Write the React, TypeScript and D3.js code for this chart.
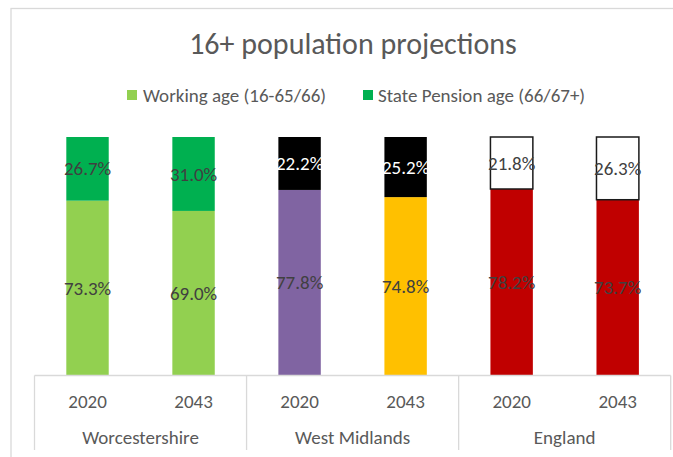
import React from "react";
import * as d3 from "d3";

const groups = ["Worcestershire", "West Midlands", "England"];
const years = ["2020", "2043"];
const workingAge = [73.3, 69.0, 77.8, 74.8, 78.2, 73.7];
const pensionAge = [26.7, 31.0, 22.2, 25.2, 21.8, 26.3];
const workingColors = ["#92D050", "#92D050", "#8064A2", "#FFC000", "#C00000", "#C00000"];
const pensionColors = ["#00B050", "#00B050", "#000000", "#000000", "#FFFFFF", "#FFFFFF"];
const pensionLabelColors = ["#404040", "#404040", "#FFFFFF", "#FFFFFF", "#404040", "#404040"];
const legendLabels = ["Working age (16-65/66)", "State Pension age (66/67+)"];
const legendColors = ["#92D050", "#00B050"];
const title = "16+ population projections";

const W = 673;
const H = 457;
const FONT = "Carlito, Calibri, Lato, 'Open Sans', sans-serif";

export default function App() {
  const plotLeft = 34.5;
  const plotRight = 670.7;
  const plotTop = 137;
  const plotBottom = 375.5;

  const bars = groups.flatMap((g, gi) => years.map((y, yi) => ({ g, y, i: gi * years.length + yi })));

  const x = d3
    .scaleBand<number>()
    .domain(bars.map((b) => b.i))
    .range([plotLeft, plotRight])
    .paddingInner(0.6)
    .paddingOuter(0.3);
  const yScale = d3.scaleLinear().domain([0, 100]).range([plotBottom, plotTop]);

  const groupWidth = (plotRight - plotLeft) / groups.length;
  const slotWidth = (plotRight - plotLeft) / bars.length;

  const axisBottom = 450;
  const grid = "#D9D9D9";
  const textGrey = "#595959";

  return (
    <svg
      width={W}
      height={H}
      style={{ position: "absolute", left: 0, top: 0, background: "#fff" }}
      fontFamily={FONT}
    >
      <rect x={0} y={0} width={W} height={H} fill="#fff" />
      {/* chart border */}
      <rect x={11} y={8.5} width={W + 20} height={H + 20} fill="none" stroke={grid} strokeWidth={1.3} />

      <text x={353} y={54} textAnchor="middle" fontSize={30} fill={textGrey}>
        {title}
      </text>

      {/* legend */}
      <rect x={127} y={90} width={10} height={10} fill={legendColors[0]} />
      <text x={143} y={101.5} fontSize={19} fill={textGrey}>
        {legendLabels[0]}
      </text>
      <rect x={363} y={90} width={10} height={10} fill={legendColors[1]} />
      <text x={378} y={101.5} fontSize={19} fill={textGrey}>
        {legendLabels[1]}
      </text>

      {/* bars */}
      {bars.map((b) => {
        const bx = x(b.i)!;
        const bw = x.bandwidth();
        const w = workingAge[b.i];
        const p = pensionAge[b.i];
        const yW = yScale(w);
        const yP = yScale(w + p);
        const isWhite = pensionColors[b.i] === "#FFFFFF";
        const cx = bx + bw / 2;
        return (
          <g key={b.i}>
            <rect x={bx} y={yW} width={bw} height={plotBottom - yW} fill={workingColors[b.i]} />
            <rect
              x={bx}
              y={yP}
              width={bw}
              height={yW - yP}
              fill={pensionColors[b.i]}
              stroke={isWhite ? "#1a1a1a" : "none"}
              strokeWidth={isWhite ? 1.5 : 0}
            />
            <text
              x={cx}
              y={(plotBottom + yW) / 2}
              dy="0.35em"
              textAnchor="middle"
              fontSize={19}
              fill="#404040"
            >
              {w.toFixed(1)}%
            </text>
            <text
              x={cx}
              y={(yW + yP) / 2}
              dy="0.35em"
              textAnchor="middle"
              fontSize={19}
              fill={pensionLabelColors[b.i]}
            >
              {p.toFixed(1)}%
            </text>
          </g>
        );
      })}

      {/* category axis */}
      <line x1={plotLeft} x2={plotRight} y1={plotBottom} y2={plotBottom} stroke={grid} strokeWidth={1.3} />
      {d3.range(groups.length + 1).map((k) => {
        const lx = plotLeft + k * groupWidth;
        return <line key={k} x1={lx} x2={lx} y1={plotBottom} y2={axisBottom} stroke={grid} strokeWidth={1.3} />;
      })}
      {bars.map((b) => (
        <text
          key={"y" + b.i}
          x={plotLeft + slotWidth * (b.i + 0.5)}
          y={408}
          textAnchor="middle"
          fontSize={19}
          fill={textGrey}
        >
          {b.y}
        </text>
      ))}
      {groups.map((g, gi) => (
        <text
          key={g}
          x={plotLeft + groupWidth * (gi + 0.5)}
          y={444}
          textAnchor="middle"
          fontSize={19}
          fill={textGrey}
        >
          {g}
        </text>
      ))}
    </svg>
  );
}
